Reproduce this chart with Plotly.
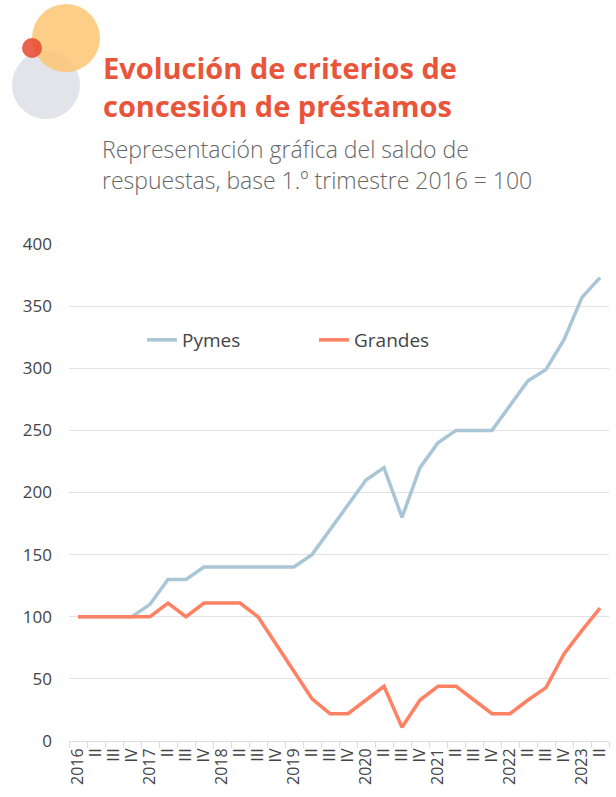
import plotly.graph_objects as go

# ---- data ----
quarter_labels = ["2016", "II", "III", "IV",
                  "2017", "II", "III", "IV",
                  "2018", "II", "III", "IV",
                  "2019", "II", "III", "IV",
                  "2020", "II", "III", "IV",
                  "2021", "II", "III", "IV",
                  "2022", "II", "III", "IV",
                  "2023", "II"]
pymes = [100, 100, 100, 100, 110, 130, 130, 140, 140, 140, 140, 140, 140, 150, 170,
         190, 210, 220, 180, 220, 240, 250, 250, 250, 270, 290, 299, 323, 357, 373]
grandes = [100, 100, 100, 100, 100, 111, 100, 111, 111, 111, 100, 78, 56, 34, 22,
           22, 33, 44, 11, 33, 44, 44, 33, 22, 22, 33, 43, 70, 89, 107]
y_ticks = [0, 50, 100, 150, 200, 250, 300, 350, 400]

title_lines = ["Evolución de criterios de", "concesión de préstamos"]
subtitle_lines = ["Representación gráfica del saldo de",
                  "respuestas, base 1.º trimestre 2016 = 100"]

# ---- layout constants ----
W, H = 616, 797
ML, MR, MT, MB = 69, 7, 244, 56
PW, PH = W - ML - MR, H - MT - MB


def px(x):
    return (x - ML) / PW


def py(y):
    return (H - MB - y) / PH


FONT = "Open Sans"
x_idx = list(range(len(quarter_labels)))

fig = go.Figure()
fig.add_trace(go.Scatter(x=x_idx, y=pymes, mode="lines", name="Pymes",
                         line=dict(color="#A8C6D6", width=3.5)))
fig.add_trace(go.Scatter(x=x_idx, y=grandes, mode="lines", name="Grandes",
                         line=dict(color="#FF8163", width=3.5)))

# decorative circles
shapes = []
def circle(cx, cy, r, color, op):
    shapes.append(dict(type="circle", xref="paper", yref="paper", layer="above",
                       x0=px(cx - r), x1=px(cx + r), y0=py(cy + r), y1=py(cy - r),
                       fillcolor=color, opacity=op, line=dict(width=0)))

circle(46, 85, 34, "#E3E3EA", 1.0)
circle(66, 38, 34, "#FCC673", 0.85)
circle(32, 48, 10, "#E8462E", 0.85)

annotations = []
for text, yb in zip(title_lines, [67, 106]):
    annotations.append(dict(text=text, x=px(101), y=py(yb), xref="paper", yref="paper",
                            xanchor="left", yanchor="middle", showarrow=False,
                            font=dict(family=FONT, size=29, color="#E9553B", weight=700)))
for text, yb in zip(subtitle_lines, [149, 180]):
    annotations.append(dict(text=text, x=px(100), y=py(yb), xref="paper", yref="paper",
                            xanchor="left", yanchor="middle", showarrow=False,
                            font=dict(family=FONT, size=23, color="#666666", weight=300)))

fig.update_layout(
    width=W, height=H,
    margin=dict(l=ML, r=MR, t=MT, b=MB, pad=0),
    paper_bgcolor="white", plot_bgcolor="white",
    font=dict(family=FONT, color="#444444"),
    shapes=shapes,
    annotations=annotations,
    showlegend=True,
    legend=dict(orientation="h", x=px(142), y=py(340), xanchor="left", yanchor="middle",
                font=dict(size=19, color="#444444", family=FONT),
                entrywidth=127, entrywidthmode="pixels",
                bgcolor="rgba(0,0,0,0)"),
    xaxis=dict(range=[-0.5, len(quarter_labels) - 0.5],
               tickmode="array", tickvals=x_idx, ticktext=quarter_labels,
               tickangle=-90, ticks="", showgrid=False,
               tickfont=dict(size=16, color="#444444"),
               showline=True, linecolor="#DDDDDD", linewidth=1,
               minor=dict(tickmode="linear", tick0=-0.5, dtick=1, ticks="outside",
                          ticklen=6, tickcolor="#DDDDDD", showgrid=False),
               zeroline=False, fixedrange=True),
    yaxis=dict(range=[0, 400], tickvals=y_ticks, showgrid=True,
               gridcolor="#E2E2E2", gridwidth=1, zeroline=False,
               tickfont=dict(size=17, color="#444444"), ticks="",
               ticklabelstandoff=16, showline=False, fixedrange=True),
)

fig.write_html("out.html", config={"displayModeBar": False},
               post_script="document.body.style.margin='0';")
